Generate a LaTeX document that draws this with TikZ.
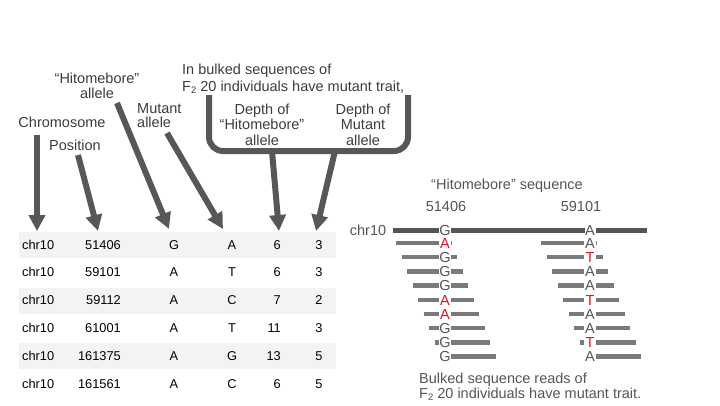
\documentclass[tikz,border=0pt]{standalone}
\usepackage{fontspec}
\setmainfont{Liberation Sans}
\usetikzlibrary{arrows.meta}
\definecolor{arr}{HTML}{575757}
\definecolor{lbl}{HTML}{3C3C3C}
\definecolor{band}{HTML}{F3F3F3}
\definecolor{rdbar}{HTML}{7A7A7A}
\definecolor{chrln}{HTML}{555555}
\definecolor{rptxt}{HTML}{555555}
\definecolor{mut}{HTML}{E3141C}
\newcommand\myFsub{\raisebox{-2.5pt}{\fontsize{9.5}{9.5}\selectfont 2}}
\begin{document}
\begin{tikzpicture}[x=1pt,y=-1pt,
  lab/.style={font=\fontsize{14.5}{15}\selectfont, text=lbl, inner sep=0pt, anchor=base},
  labw/.style={lab, anchor=base west},
  rp/.style={font=\fontsize{14.5}{15}\selectfont, text=rptxt, inner sep=0pt, anchor=base},
  cell/.style={font=\fontsize{12.8}{13}\selectfont, text=black, inner sep=0pt, anchor=base},
  bigarrow/.style={draw=arr, line width=6pt, -{Triangle[width=16pt,length=16pt]}},
  bracketline/.style={draw=arr, line width=6pt, rounded corners=14pt},
  chrline/.style={draw=chrln, line width=5pt},
  readbar/.style={draw=rdbar, line width=4.5pt}
]
\useasboundingbox (0,0) rectangle (720,405);

% ---- table ----
\foreach \i in {0,2,4}{
  \fill[band] (19,{249+27.8*\i-17}) rectangle (336,{249+27.8*\i+9});
}
\foreach \c/\p/\r/\m/\d/\e [count=\i from 0] in
 {chr10/51406/G/A/6/3, chr10/59101/A/T/6/3, chr10/59112/A/C/7/2,
  chr10/61001/A/T/11/3, chr10/161375/A/G/13/5, chr10/161561/A/C/6/5}{
  \pgfmathsetmacro\yy{249+27.8*\i}
  \node[cell, anchor=base west] (chr\i) at (22,\yy) {\c};
  \node[cell, anchor=base east] (pos\i) at (121,\yy) {\p};
  \node[cell] (ref\i) at (174,\yy) {\r};
  \node[cell] (alt\i) at (232,\yy) {\m};
  \node[cell, anchor=base east] (dr\i) at (281,\yy) {\d};
  \node[cell] (dm\i) at (319,\yy) {\e};
}

% ---- labels ----
\node[lab] (lchr) at (62,127) {Chromosome};
\node[lab] (lpos) at (75,150) {Position};
\node[lab] (lhit1) at (97,83) {“Hitomebore”};
\node[lab] (lhit2) at (97,98) {allele};
\node[labw] (lmut1) at (137,113) {Mutant};
\node[labw] (lmut2) at (137,127) {allele};
\node[labw] (lbulk1) at (182,74) {In bulked sequences of};
\node[labw] (lbulk2) at (182,91) {F\myFsub\ 20 individuals have mutant trait,};
\node[lab] (ld1a) at (262,114) {Depth of};
\node[lab] (ld1b) at (262,129) {“Hitomebore”};
\node[lab] (ld1c) at (262,145) {allele};
\node[lab] (ld2a) at (363,114) {Depth of};
\node[lab] (ld2b) at (363,129) {Mutant};
\node[lab] (ld2c) at (363,145) {allele};

% bracket
\coordinate (brL) at (209,95);
\coordinate (brR) at (408,95);
\draw[bracketline] (brL) -- (209,151) -- (408,151) -- (brR);

% arrow coordinates
\coordinate (aChrS) at (37,135);   \coordinate (aChrE) at (37,231);
\coordinate (aPosS) at (78,155);   \coordinate (aPosE) at (98,231);
\coordinate (aHitS) at (117,103);  \coordinate (aHitE) at (169,229);
\coordinate (aMutS) at (167,133);  \coordinate (aMutE) at (223,229);
\coordinate (aD1S) at (272,151);   \coordinate (aD1E) at (279,231);
\coordinate (aD2S) at (335,151);   \coordinate (aD2E) at (316,231);
\draw[bigarrow] (aChrS) -- (aChrE);
\draw[bigarrow] (aPosS) -- (aPosE);
\draw[bigarrow] (aHitS) -- (aHitE);
\draw[bigarrow] (aMutS) -- (aMutE);
\draw[bigarrow] (aD1S) -- (aD1E);
\draw[bigarrow] (aD2S) -- (aD2E);

% ---- right panel ----
\node[rp] (hseq) at (507,189) {“Hitomebore” sequence};
\node[rp] (p1) at (446,211) {51406};
\node[rp] (p2) at (581,211) {59101};
\node[rp] (chrlab) at (368,235) {chr10};
\node[rp] (g1) at (445,235) {G};
\node[rp] (g2) at (590,235) {A};
\draw[chrline] (393,230) -- (439,230);
\draw[chrline] (451,230) -- (585,230);
\draw[chrline] (596,230) -- (647,230);

\foreach \L/\R/\lc/\rc [count=\i from 0] in
 {A/A/mut/rptxt, G/T/rptxt/mut, G/A/rptxt/rptxt, G/A/rptxt/rptxt,
  A/T/mut/mut, A/A/mut/rptxt, G/A/rptxt/rptxt, G/T/rptxt/mut, G/A/rptxt/rptxt}{
  \pgfmathsetmacro\yc{243+14.2*\i}
  \pgfmathsetmacro\yb{\yc+5.2}
  \ifnum\i<8
    \draw[readbar] ({396+5.5*\i},\yc) -- (439,\yc);
    \draw[readbar] ({541+5.5*\i},\yc) -- (584,\yc);
  \fi
  \draw[readbar] (450.5,\yc) -- ({451.5+5.5*\i},\yc);
  \draw[readbar] (595.5,\yc) -- ({597+5.5*\i},\yc);
  \node[rp, text=\lc] (rl\i) at (445,\yb) {\L};
  \node[rp, text=\rc] (rr\i) at (590,\yb) {\R};
}

\node[rp, anchor=base west] (bot1) at (419,383) {Bulked sequence reads of};
\node[rp, anchor=base west] (bot2) at (419,398) {F\myFsub\ 20 individuals have mutant trait.};
\end{tikzpicture}
\end{document}
